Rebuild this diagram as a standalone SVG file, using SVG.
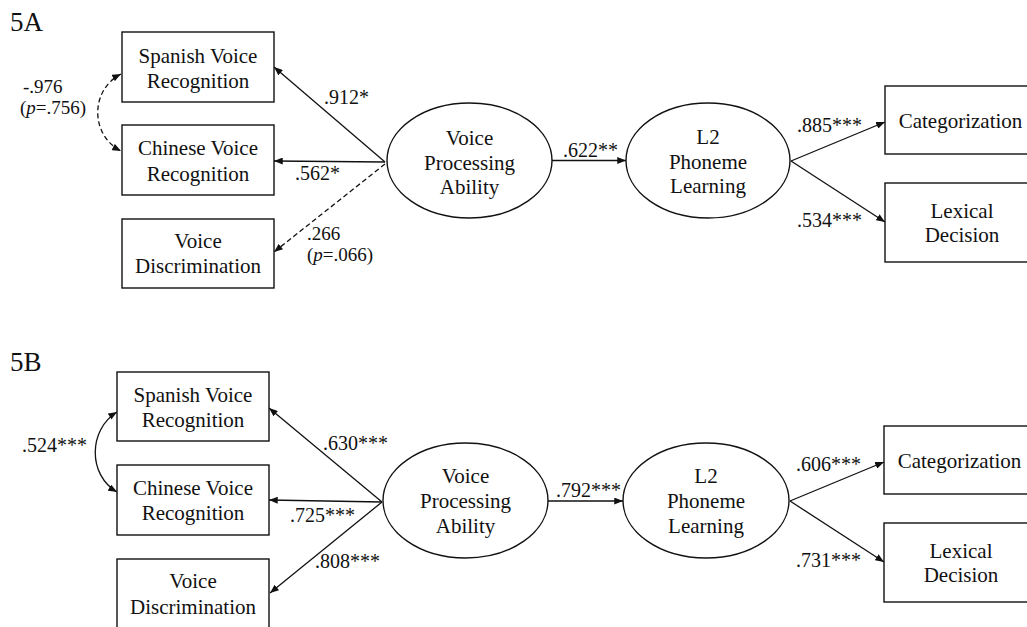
<svg xmlns="http://www.w3.org/2000/svg" width="1027" height="627" viewBox="0 0 1027 627">
<style>
text{font-family:"Liberation Serif","Times New Roman","DejaVu Serif",serif;fill:#111;}
.t{font-size:21px;text-anchor:middle;}
.l{font-size:20px;}
.s{font-size:19px;}
.h{font-size:27px;}
.box{fill:#fff;stroke:#111;stroke-width:1.4;}
.ell{fill:#fff;stroke:#111;stroke-width:1.4;}
.c{fill:none;stroke:#111;stroke-width:1.3;marker-end:url(#ah);}
.d{stroke-dasharray:5,3;}
.dbl{marker-start:url(#ah);}
</style>
<defs>
<marker id="ah" viewBox="0 0 10 8" refX="10" refY="4" markerWidth="9" markerHeight="7" markerUnits="userSpaceOnUse" orient="auto-start-reverse">
<path d="M0,0 L10,4 L0,8 z" fill="#111"/>
</marker>
</defs>
<rect width="1027" height="627" fill="#fff"/>
<text class="h" x="10" y="31">5A</text>
<text class="h" x="10" y="371">5B</text>
<g id="connectors">
<line class="c" x1="385" y1="162" x2="274" y2="67"/>
<line class="c" x1="385" y1="162" x2="274" y2="161"/>
<line class="c d" x1="385" y1="164" x2="274" y2="252"/>
<path class="c d dbl" d="M121,74 C90,90 90,135 121,151"/>
<line class="c" x1="552" y1="160.5" x2="626" y2="160.5"/>
<line class="c" x1="791" y1="161" x2="885" y2="122"/>
<line class="c" x1="791" y1="161" x2="885" y2="222"/>
<line class="c" x1="382" y1="502" x2="269" y2="408"/>
<line class="c" x1="382" y1="502" x2="269" y2="500"/>
<line class="c" x1="382" y1="502" x2="270" y2="593"/>
<path class="c dbl" d="M117,412 C88,430 88,475 117,492"/>
<line class="c" x1="548" y1="501" x2="623" y2="501"/>
<line class="c" x1="790" y1="501" x2="884" y2="462"/>
<line class="c" x1="790" y1="501" x2="884" y2="562"/>
</g>
<g id="a-spanish"><rect class="box" x="122" y="32" width="152" height="70"/><text class="t" x="198" y="63">Spanish Voice</text><text class="t" x="198" y="88">Recognition</text></g>
<g id="a-chinese"><rect class="box" x="122" y="125" width="152" height="70"/><text class="t" x="198" y="155">Chinese Voice</text><text class="t" x="198" y="181">Recognition</text></g>
<g id="a-discrim"><rect class="box" x="122" y="219" width="152" height="69"/><text class="t" x="198" y="248">Voice</text><text class="t" x="198" y="273">Discrimination</text></g>
<g id="a-vpa"><ellipse class="ell" cx="469.5" cy="160.5" rx="82.5" ry="57.5"/><text class="t" x="469.5" y="145">Voice</text><text class="t" x="469.5" y="170">Processing</text><text class="t" x="469.5" y="194">Ability</text></g>
<g id="a-l2"><ellipse class="ell" cx="708" cy="160.5" rx="82" ry="57.5"/><text class="t" x="708" y="144">L2</text><text class="t" x="708" y="169">Phoneme</text><text class="t" x="708" y="193">Learning</text></g>
<g id="a-cat"><rect class="box" x="885" y="86" width="150" height="68"/><text class="t" x="960.5" y="128">Categorization</text></g>
<g id="a-lex"><rect class="box" x="885" y="183" width="150" height="79"/><text class="t" x="962" y="218">Lexical</text><text class="t" x="962" y="242">Decision</text></g>
<g id="b-spanish"><rect class="box" x="117" y="372" width="152" height="69"/><text class="t" x="193" y="402">Spanish Voice</text><text class="t" x="193" y="427">Recognition</text></g>
<g id="b-chinese"><rect class="box" x="117" y="465" width="152" height="70"/><text class="t" x="193" y="495">Chinese Voice</text><text class="t" x="193" y="520">Recognition</text></g>
<g id="b-discrim"><rect class="box" x="117" y="559" width="152" height="80"/><text class="t" x="193" y="588">Voice</text><text class="t" x="193" y="614">Discrimination</text></g>
<g id="b-vpa"><ellipse class="ell" cx="465.5" cy="500.5" rx="82.5" ry="57.5"/><text class="t" x="465.5" y="483">Voice</text><text class="t" x="465.5" y="508">Processing</text><text class="t" x="465.5" y="533">Ability</text></g>
<g id="b-l2"><ellipse class="ell" cx="706" cy="500.5" rx="83" ry="57.5"/><text class="t" x="706" y="483">L2</text><text class="t" x="706" y="508">Phoneme</text><text class="t" x="706" y="533">Learning</text></g>
<g id="b-cat"><rect class="box" x="884" y="426" width="150" height="68"/><text class="t" x="959.5" y="468">Categorization</text></g>
<g id="b-lex"><rect class="box" x="884" y="523" width="150" height="79"/><text class="t" x="961" y="558">Lexical</text><text class="t" x="961" y="582">Decision</text></g>
<g id="labels">
<text class="s" x="23" y="93">-.976</text>
<text class="s" x="20" y="114">(<tspan font-style="italic">p</tspan>=.756)</text>
<text class="l" x="324" y="104">.912*</text>
<text class="l" x="295" y="180">.562*</text>
<text class="s" x="307" y="240">.266</text>
<text class="s" x="307" y="261">(<tspan font-style="italic">p</tspan>=.066)</text>
<text class="l" x="563" y="157">.622**</text>
<text class="l" x="797" y="132">.885***</text>
<text class="l" x="797" y="227">.534***</text>
<text class="l" x="22" y="452">.524***</text>
<text class="l" x="323" y="450">.630***</text>
<text class="l" x="290" y="522">.725***</text>
<text class="l" x="315" y="568">.808***</text>
<text class="l" x="556" y="497">.792***</text>
<text class="l" x="796" y="471">.606***</text>
<text class="l" x="796" y="567">.731***</text>
</g>
</svg>
